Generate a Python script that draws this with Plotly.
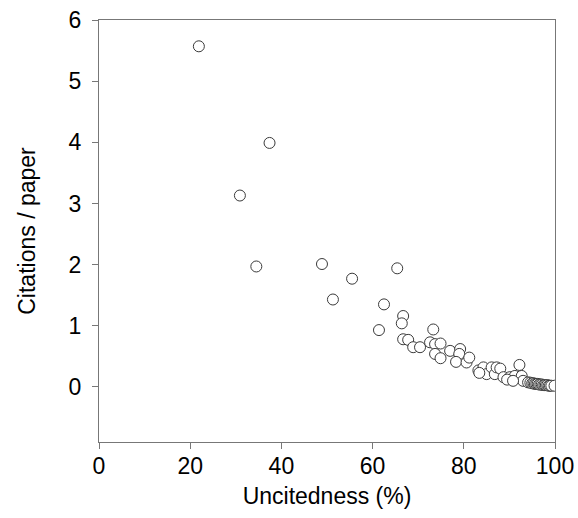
import plotly.graph_objects as go

uncitedness = [21.9, 37.4, 30.9, 34.5, 48.9, 55.5, 51.3, 65.4, 62.5, 66.7,
               66.4, 61.4, 73.3, 66.7, 67.8, 68.9, 70.4, 72.6, 73.7, 74.9,
               73.7, 74.9, 77.0, 79.2, 79.0, 78.3, 80.6, 81.2, 83.2, 84.3,
               85.0, 86.1, 86.8, 83.4, 87.2, 88.0, 92.2, 88.7, 90.1, 91.2,
               92.7, 93.0, 94.1, 89.5, 90.8,
               94.6, 95.0, 95.3, 95.6, 95.9, 96.2, 96.5, 96.8, 97.1, 97.4,
               97.7, 98.0, 98.3, 98.6, 98.9, 99.2, 99.9]
citations = [5.57, 3.99, 3.13, 1.97, 2.01, 1.77, 1.43, 1.94, 1.35, 1.16,
             1.04, 0.93, 0.94, 0.78, 0.77, 0.65, 0.65, 0.73, 0.70, 0.71,
             0.54, 0.47, 0.59, 0.62, 0.54, 0.41, 0.40, 0.48, 0.27, 0.32,
             0.21, 0.32, 0.21, 0.23, 0.32, 0.30, 0.36, 0.16, 0.16, 0.18,
             0.18, 0.10, 0.075, 0.12, 0.10,
             0.07, 0.06, 0.06, 0.05, 0.05, 0.05, 0.04, 0.04, 0.04, 0.03,
             0.03, 0.03, 0.03, 0.02, 0.02, 0.02, 0.02]

x_ticks = [0, 20, 40, 60, 80, 100]
y_ticks = [0, 1, 2, 3, 4, 5, 6]

FONT = "Liberation Sans, Arial, sans-serif"
AXC = "#777777"

fig = go.Figure(go.Scatter(
    x=uncitedness, y=citations, mode="markers",
    marker=dict(symbol="circle", size=11, color="rgba(255,255,255,1)",
                line=dict(color="#3a3a3a", width=1)),
    hoverinfo="skip"))

fig.update_layout(
    width=578, height=518,
    margin=dict(l=99, r=23, t=20, b=76),
    paper_bgcolor="white", plot_bgcolor="white",
    showlegend=False,
    font=dict(family=FONT, size=23, color="black"),
)
fig.update_xaxes(
    range=[0, 100], tickvals=x_ticks, showgrid=False, zeroline=False,
    showline=True, linecolor=AXC, linewidth=1, mirror=True,
    ticks="outside", ticklen=6, tickcolor=AXC, automargin=False,
    tickfont=dict(size=23), ticklabelstandoff=-3, ticklabeloverflow="allow",
    title=dict(text="Uncitedness (%)", font=dict(size=23), standoff=10),
)
fig.update_yaxes(
    range=[-0.9, 6], tickvals=y_ticks, showgrid=False, zeroline=False,
    showline=True, linecolor=AXC, linewidth=1, mirror=True,
    ticks="outside", ticklen=6, tickcolor=AXC, automargin=False,
    tickfont=dict(size=23), ticklabelstandoff=6, ticklabeloverflow="allow",
    title=dict(text="Citations / paper", font=dict(size=23), standoff=26),
)

fig.write_html(
    "out.html",
    config={"displayModeBar": False},
    post_script="document.body.style.margin='0';document.body.style.overflow='hidden';",
)
